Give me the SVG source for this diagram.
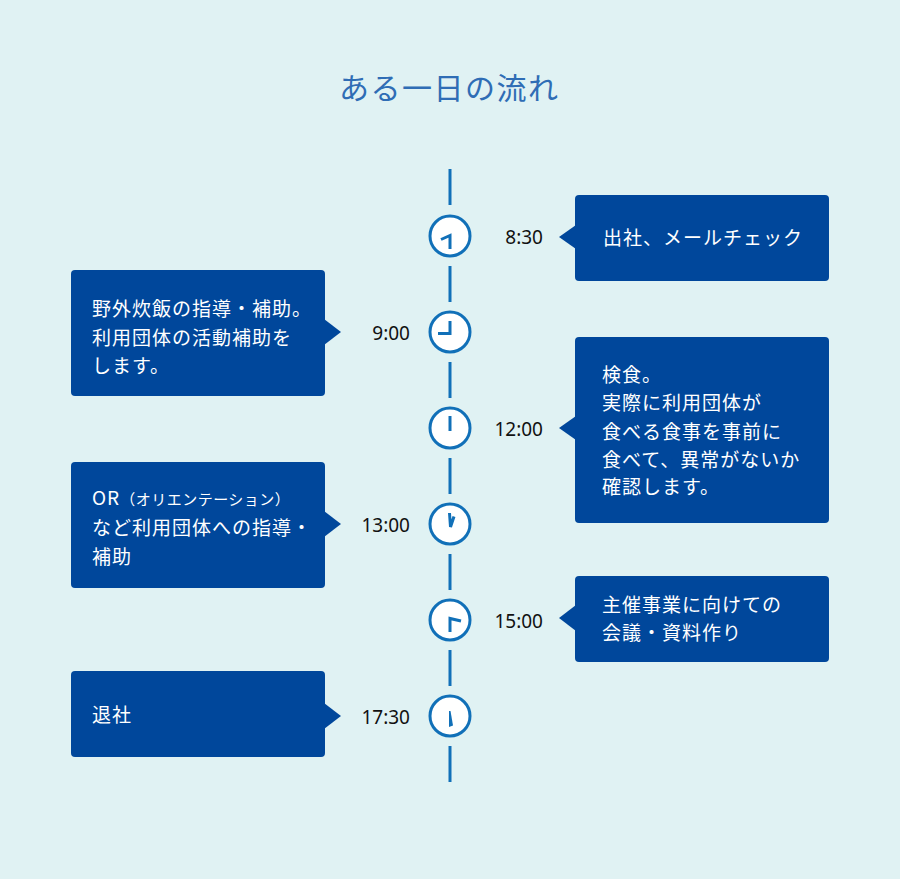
<svg xmlns="http://www.w3.org/2000/svg" width="900" height="879" viewBox="0 0 900 879">
  <style>
    .bg { fill: #e0f2f3; }
    .title { font-family: "Noto Sans CJK JP", "Noto Sans", sans-serif; font-size: 30px; fill: #2f6db5; letter-spacing: 1.5px; }
    .box { fill: #00479b; }
    .btxt { font-family: "Noto Sans CJK JP", "Noto Sans", sans-serif; font-size: 19px; fill: #ffffff; letter-spacing: 1px; }
    .small { font-size: 15px; letter-spacing: 0.5px; }
    .time { font-family: "Noto Sans", "Noto Sans CJK JP", sans-serif; font-size: 19px; fill: #111111; }
    .seg { stroke: #1170b8; stroke-width: 3; fill: none; }
    .clock { fill: #ffffff; stroke: #1170b8; stroke-width: 3; }
    .hand { stroke: #1170b8; stroke-width: 3; fill: none; stroke-linecap: butt; stroke-linejoin: miter; }
  </style>
  <rect class="bg" x="0" y="0" width="900" height="879"/>
  <text class="title" x="339" y="99">ある一日の流れ</text>

  <g id="connectors">
    <line class="seg" x1="450" y1="169" x2="450" y2="205"/>
    <line class="seg" x1="450" y1="266" x2="450" y2="302"/>
    <line class="seg" x1="450" y1="362" x2="450" y2="398"/>
    <line class="seg" x1="450" y1="458" x2="450" y2="494"/>
    <line class="seg" x1="450" y1="554" x2="450" y2="590"/>
    <line class="seg" x1="450" y1="650" x2="450" y2="686"/>
    <line class="seg" x1="450" y1="746" x2="450" y2="782"/>
  </g>

  <g id="clock-0830">
    <circle class="clock" cx="450" cy="236" r="20"/>
    <polyline class="hand" points="441,239.5 450,235.5 450,249"/>
    <text class="time" x="543" y="243.5" text-anchor="end">8:30</text>
  </g>
  <g id="clock-0900">
    <circle class="clock" cx="450" cy="332" r="20"/>
    <polyline class="hand" points="450,321 450,333.5 438,333.5"/>
    <text class="time" x="410" y="339.5" text-anchor="end">9:00</text>
  </g>
  <g id="clock-1200">
    <circle class="clock" cx="450" cy="428" r="20"/>
    <line class="hand" x1="450" y1="416" x2="450" y2="431"/>
    <text class="time" x="543" y="435.5" text-anchor="end">12:00</text>
  </g>
  <g id="clock-1300">
    <circle class="clock" cx="450" cy="524" r="20"/>
    <polyline class="hand" points="449.5,513 450.5,527 454,516.5"/>
    <text class="time" x="410" y="531.5" text-anchor="end">13:00</text>
  </g>
  <g id="clock-1500">
    <circle class="clock" cx="450" cy="620" r="20"/>
    <polyline class="hand" points="450,632 450,618.5 461,621"/>
    <text class="time" x="543" y="627.5" text-anchor="end">15:00</text>
  </g>
  <g id="clock-1730">
    <circle class="clock" cx="450" cy="716" r="20"/>
    <polygon fill="#1170b8" points="449,711 450.5,711 453,725.5 449,727"/>
    <text class="time" x="410" y="723.5" text-anchor="end">17:30</text>
  </g>

  <g id="box-0830">
    <rect class="box" x="575" y="195" width="254" height="86" rx="4"/>
    <polygon class="box" points="576,225 559,237 576,249"/>
    <text class="btxt" x="603" y="245">出社、メールチェック</text>
  </g>
  <g id="box-0900">
    <rect class="box" x="71" y="270" width="254" height="126" rx="4"/>
    <polygon class="box" points="324,319 341,332 324,345"/>
    <text class="btxt" x="92" y="316">野外炊飯の指導・補助。</text>
    <text class="btxt" x="92" y="345">利用団体の活動補助を</text>
    <text class="btxt" x="92" y="373">します。</text>
  </g>
  <g id="box-1200">
    <rect class="box" x="575" y="337" width="254" height="186" rx="4"/>
    <polygon class="box" points="576,416 559,428 576,440"/>
    <text class="btxt" x="602" y="382">検食。</text>
    <text class="btxt" x="602" y="410">実際に利用団体が</text>
    <text class="btxt" x="602" y="438.5">食べる食事を事前に</text>
    <text class="btxt" x="602" y="466.5">食べて、異常がないか</text>
    <text class="btxt" x="602" y="494">確認します。</text>
  </g>
  <g id="box-1300">
    <rect class="box" x="71" y="462" width="254" height="126" rx="4"/>
    <polygon class="box" points="324,511 341,524 324,537"/>
    <text class="btxt" x="92" y="505">OR<tspan class="small">（オリエンテーション）</tspan></text>
    <text class="btxt" x="92" y="535">など利用団体への指導・</text>
    <text class="btxt" x="92" y="564">補助</text>
  </g>
  <g id="box-1500">
    <rect class="box" x="575" y="576" width="254" height="86" rx="4"/>
    <polygon class="box" points="576,605 559,618 576,631"/>
    <text class="btxt" x="602" y="612">主催事業に向けての</text>
    <text class="btxt" x="602" y="640">会議・資料作り</text>
  </g>
  <g id="box-1730">
    <rect class="box" x="71" y="671" width="254" height="86" rx="4"/>
    <polygon class="box" points="324,703 341,716 324,729"/>
    <text class="btxt" x="92" y="722">退社</text>
  </g>
</svg>
